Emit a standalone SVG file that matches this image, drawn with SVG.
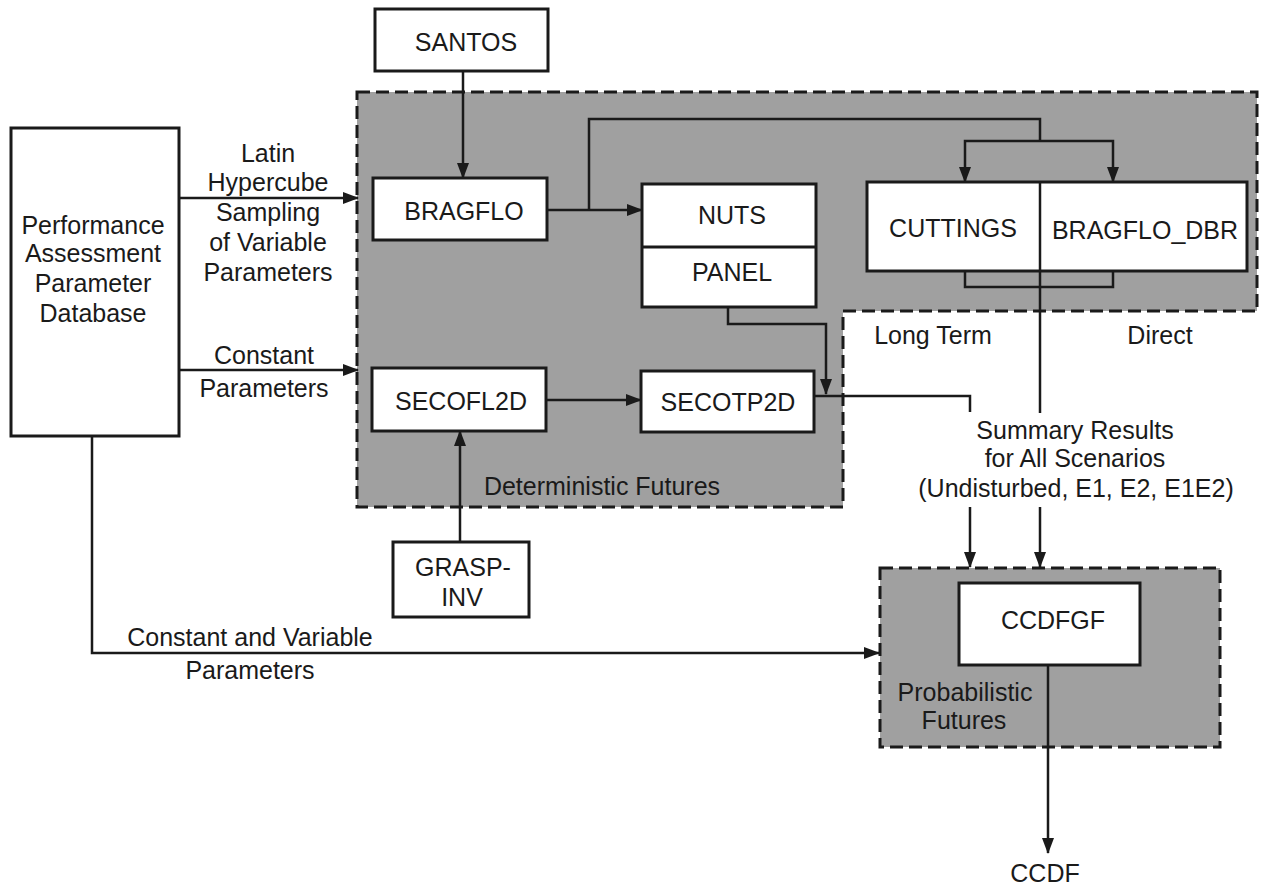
<svg xmlns="http://www.w3.org/2000/svg" width="1264" height="886" viewBox="0 0 1264 886">
<style>
text{font-family:"Liberation Sans",Arial,sans-serif;font-size:25px;fill:#1a1a1a;text-anchor:middle}
.box{fill:#fff;stroke:#1a1a1a;stroke-width:3}
.region{fill:#a0a0a0;stroke:#1a1a1a;stroke-width:3;stroke-dasharray:13 6}
.ln{fill:none;stroke:#1a1a1a;stroke-width:2.5}
.ar{fill:none;stroke:#1a1a1a;stroke-width:2.5;marker-end:url(#ah)}
</style>
<defs>
<marker id="ah" markerUnits="userSpaceOnUse" markerWidth="16" markerHeight="12" refX="15" refY="6" orient="auto">
<path d="M0,0 L16,6 L0,12 z" fill="#1a1a1a"/>
</marker>
</defs>
<rect width="1264" height="886" fill="#fff"/>

<g id="deterministic-region">
<path class="region" d="M357,92 H1257 V311 H843 V507 H357 Z"/>
<text x="602" y="495">Deterministic Futures</text>
</g>
<g id="probabilistic-region">
<rect class="region" x="880" y="568" width="340" height="179"/>
<text x="965" y="701">Probabilistic</text>
<text x="964" y="729">Futures</text>
</g>

<g id="connectors">
<path class="ar" d="M463,71 V178"/>
<path class="ar" d="M180,198 H358"/>
<path class="ar" d="M178,370 H358"/>
<path class="ar" d="M547,210 H642"/>
<path class="ln" d="M589,210 V119 H1040 V141"/>
<path class="ar" d="M1040,141 H965 V182"/>
<path class="ar" d="M1040,141 H1113 V182"/>
<path class="ln" d="M965,271 V287 H1113 V271"/>
<path class="ln" d="M1040,271 V413"/>
<path class="ar" d="M728,307 V324 H826 V394"/>
<path class="ar" d="M546,400 H641"/>
<path class="ln" d="M814,396 H970 V412"/>
<path class="ar" d="M460,542 V431"/>
<path class="ar" d="M970,507 V567"/>
<path class="ar" d="M1040,507 V567"/>
<path class="ar" d="M92,436 V653 H879"/>
<path class="ar" d="M1048,665 V853"/>
</g>

<g id="database">
<rect class="box" x="11" y="128" width="168" height="308"/>
<text x="93" y="234">Performance</text>
<text x="93" y="262">Assessment</text>
<text x="93" y="292">Parameter</text>
<text x="93" y="322">Database</text>
</g>
<g id="label-latin">
<text x="268" y="162">Latin</text>
<text x="268" y="191">Hypercube</text>
<text x="268" y="221">Sampling</text>
<text x="268" y="251">of Variable</text>
<text x="268" y="281">Parameters</text>
</g>
<g id="label-constant">
<text x="264" y="364">Constant</text>
<text x="264" y="397">Parameters</text>
</g>
<g id="label-const-var">
<text x="250" y="646">Constant and Variable</text>
<text x="250" y="679">Parameters</text>
</g>
<g id="santos">
<rect class="box" x="375" y="9" width="173" height="62"/>
<text x="466" y="51">SANTOS</text>
</g>
<g id="bragflo">
<rect class="box" x="373" y="178" width="174" height="62"/>
<text x="464" y="220">BRAGFLO</text>
</g>
<g id="nuts-panel">
<rect class="box" x="642" y="184" width="174" height="123"/>
<path class="ln" d="M642,247 H816" style="stroke-width:3"/>
<text x="732" y="224">NUTS</text>
<text x="732" y="281">PANEL</text>
</g>
<g id="cuttings-bragflo-dbr">
<rect class="box" x="867" y="182" width="380" height="89"/>
<path class="ln" d="M1040,182 V271"/>
<text x="953" y="237">CUTTINGS</text>
<text x="1145" y="239">BRAGFLO_DBR</text>
</g>
<g id="label-long-term"><text x="933" y="344">Long Term</text></g>
<g id="label-direct"><text x="1160" y="344">Direct</text></g>
<g id="secofl2d">
<rect class="box" x="372" y="368" width="174" height="63"/>
<text x="461" y="410">SECOFL2D</text>
</g>
<g id="secotp2d">
<rect class="box" x="641" y="371" width="173" height="61"/>
<text x="728" y="411">SECOTP2D</text>
</g>
<g id="grasp-inv">
<rect class="box" x="393" y="542" width="136" height="75"/>
<text x="463" y="576">GRASP-</text>
<text x="462" y="606">INV</text>
</g>
<g id="summary">
<text x="1075" y="439">Summary Results</text>
<text x="1075" y="467">for All Scenarios</text>
<text x="1076" y="497">(Undisturbed, E1, E2, E1E2)</text>
</g>
<g id="ccdfgf">
<rect class="box" x="959" y="583" width="181" height="82"/>
<text x="1053" y="629">CCDFGF</text>
</g>
<g id="ccdf"><text x="1045" y="882">CCDF</text></g>
</svg>
